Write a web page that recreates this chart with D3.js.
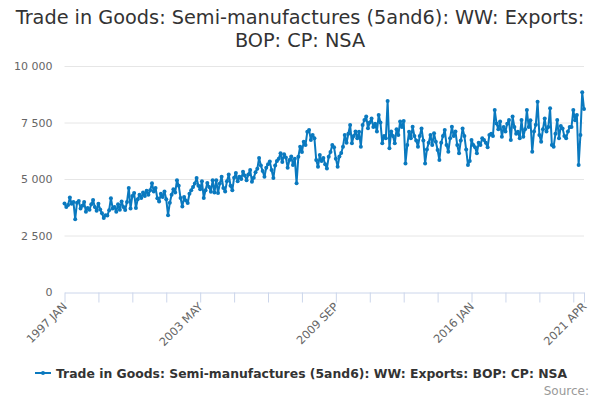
<!DOCTYPE html>
<html>
<head>
<meta charset="utf-8">
<script src="https://cdn.jsdelivr.net/npm/d3@7"></script>
<style>
  body { margin: 0; background: #fff; }
  text { font-family: "DejaVu Sans", sans-serif; }
</style>
</head>
<body>
<div id="chart"></div>
<script>
// monthly values, 1997 JAN .. 2021 APR
var y1997 = [3920, 3760, 3850, 4180, 3900, 3980, 3220, 3950, 4030, 3700, 3820, 3980];
var y1998 = [3550, 3720, 3640, 3880, 4070, 3760, 3590, 3900, 3650, 3480, 3270, 3400];
var y1999 = [3380, 3620, 4150, 3700, 3760, 3550, 3880, 3640, 4000, 3760, 3630, 3980];
var y2000 = [4600, 3700, 4250, 4380, 3720, 4100, 4300, 4160, 4400, 4250, 4480, 4300];
var y2001 = [4500, 4810, 4450, 4600, 4150, 4000, 4350, 4200, 4450, 4100, 3400, 3950];
var y2002 = [4300, 4550, 4400, 4950, 4700, 4160, 3780, 4200, 4050, 3940, 4350, 4500];
var y2003 = [4650, 4800, 5040, 4700, 4550, 4900, 4160, 4500, 4820, 4650, 4440, 4950];
var y2004 = [4400, 4950, 4380, 4800, 5100, 4600, 4450, 4900, 5200, 4700, 4500, 5050];
var y2005 = [5260, 4900, 5100, 5000, 5320, 5150, 4950, 5200, 5400, 4880, 5050, 5300];
var y2006 = [5450, 5930, 5600, 5350, 5100, 5500, 5650, 5770, 5400, 5040, 5600, 5800];
var y2007 = [5900, 6140, 5750, 6100, 5950, 5500, 5840, 6000, 5620, 5900, 4810, 5990];
var y2008 = [6430, 6200, 6650, 6500, 7090, 7170, 6730, 6950, 6800, 5840, 5540, 6060];
var y2009 = [5800, 5930, 5650, 5470, 5990, 6200, 6500, 6400, 5900, 5540, 6000, 6150];
var y2010 = [6430, 6950, 6600, 7000, 7390, 6580, 6900, 7100, 6800, 7090, 6430, 7390];
var y2011 = [7610, 7760, 7250, 7500, 7680, 7300, 7450, 7100, 7830, 7500, 6580, 6900];
var y2012 = [6800, 8450, 6360, 7100, 6900, 6580, 7200, 6950, 7540, 7300, 7570, 5690];
var y2013 = [6500, 7090, 6800, 7310, 6900, 6700, 6430, 6900, 7240, 6700, 5690, 6300];
var y2014 = [6600, 6950, 6500, 7020, 6650, 6280, 5840, 6600, 6900, 7170, 6500, 6210];
var y2015 = [6800, 7310, 6900, 7100, 6500, 6140, 6700, 7240, 6900, 6300, 5620, 5800];
var y2016 = [6730, 6500, 6400, 6140, 6600, 6500, 6800, 6730, 6600, 6400, 6950, 7000];
var y2017 = [6900, 8050, 7460, 7200, 7540, 6870, 7300, 7100, 7450, 7610, 6730, 7760];
var y2018 = [7300, 7000, 7090, 6800, 7610, 6870, 7200, 8050, 7300, 7600, 6210, 7100];
var y2019 = [7400, 8420, 6950, 6650, 7200, 7680, 7100, 7300, 8130, 6500, 6430, 7000];
var y2020 = [7610, 6800, 7350, 7240, 6900, 6800, 7100, 7300, 7300, 8050, 7600, 7830];
var y2021 = [5620, 6950, 8840, 8100];

var months = ["JAN", "FEB", "MAR", "APR", "MAY", "JUN", "JUL", "AUG", "SEP", "OCT", "NOV", "DEC"];
var yTicks = [0, 2500, 5000, 7500, 10000];
var labelTicks = ["1997 JAN", "2003 MAY", "2009 SEP", "2016 JAN", "2021 APR"];

var titleLines = ["Trade in Goods: Semi-manufactures (5and6): WW: Exports:", "BOP: CP: NSA"];
var seriesName = "Trade in Goods: Semi-manufactures (5and6): WW: Exports: BOP: CP: NSA";

var values = [].concat(y1997, y1998, y1999, y2000, y2001, y2002, y2003, y2004, y2005,
    y2006, y2007, y2008, y2009, y2010, y2011, y2012, y2013, y2014, y2015, y2016,
    y2017, y2018, y2019, y2020, y2021);

var data = values.map(function (v, i) {
    return { label: (1997 + Math.floor(i / 12)) + " " + months[i % 12], value: v, i: i };
});

var width = 600, height = 400;
var plotLeft = 64.5, plotRight = 584, plotBottom = 292, plotTop = 66;
var color = "#0a79bf";

var svg = d3.select("#chart").append("svg")
    .attr("width", width)
    .attr("height", height);

var x = d3.scaleLinear().domain([0, data.length - 1]).range([plotLeft, plotRight]);
var y = d3.scaleLinear().domain([0, 10000]).range([plotBottom, plotTop]);

// title
svg.append("g").selectAll("text")
    .data(titleLines)
  .enter().append("text")
    .attr("x", width / 2)
    .attr("y", function (d, i) { return 24 + i * 23; })
    .attr("text-anchor", "middle")
    .style("font-size", "19.3px")
    .style("fill", "#333")
    .text(function (d) { return d; });

// grid + y labels
var fmt = function (v) { return d3.format(",")(v).replace(/,/g, " "); };
var yAxis = svg.append("g")
    .attr("transform", "translate(" + plotLeft + ",0)")
    .call(d3.axisLeft(y).tickValues(yTicks).tickSize(-(plotRight - plotLeft)).tickPadding(12).tickFormat(fmt));
yAxis.select(".domain").remove();
yAxis.selectAll(".tick line").attr("stroke", "#e6e6e6");
yAxis.selectAll(".tick").filter(function (d) { return d === 0; }).select("line").remove();
yAxis.selectAll(".tick text")
    .style("font-size", "11px")
    .style("fill", "#666")
    .style("font-family", "DejaVu Sans, sans-serif");

// x axis: tick every 19 months plus the last month
var tickIdx = d3.range(0, data.length, 19);
tickIdx.push(data.length - 1);
var xAxis = svg.append("g")
    .attr("transform", "translate(0," + (plotBottom + 0.5) + ")")
    .call(d3.axisBottom(x).tickValues(tickIdx).tickSize(10).tickSizeOuter(0)
        .tickFormat(function (d) {
            var lab = data[d].label;
            return labelTicks.indexOf(lab) >= 0 ? lab : "";
        }));
xAxis.select(".domain").attr("stroke", "#ccd6eb");
xAxis.selectAll(".tick line").attr("stroke", "#ccd6eb");
xAxis.selectAll(".tick text")
    .style("font-size", "11.3px")
    .style("fill", "#666")
    .style("font-family", "DejaVu Sans, sans-serif")
    .attr("text-anchor", "end")
    .attr("x", 0).attr("y", 0)
    .attr("dy", "0.35em")
    .attr("transform", "translate(0,12) rotate(-45)");

// line + markers
var line = d3.line()
    .x(function (d) { return x(d.i); })
    .y(function (d) { return y(d.value); });

svg.append("path")
    .datum(data)
    .attr("fill", "none")
    .attr("stroke", color)
    .attr("stroke-width", 2)
    .attr("stroke-linejoin", "round")
    .attr("d", line);

svg.append("g").selectAll("circle")
    .data(data)
  .enter().append("circle")
    .attr("cx", function (d) { return x(d.i); })
    .attr("cy", function (d) { return y(d.value); })
    .attr("r", 2)
    .attr("fill", color);

// legend
var legend = svg.append("g").attr("transform", "translate(35,373)");
legend.append("line")
    .attr("x1", 0).attr("x2", 16)
    .attr("stroke", color).attr("stroke-width", 2);
legend.append("circle")
    .attr("cx", 8).attr("r", 2).attr("fill", color);
legend.append("text")
    .attr("x", 21).attr("y", 5)
    .style("font-size", "12.4px")
    .style("font-weight", "bold")
    .style("fill", "#333")
    .text(seriesName);

// source
svg.append("text")
    .attr("x", 589).attr("y", 395)
    .attr("text-anchor", "end")
    .style("font-size", "12px")
    .style("fill", "#999")
    .text("Source:");
</script>
</body>
</html>
